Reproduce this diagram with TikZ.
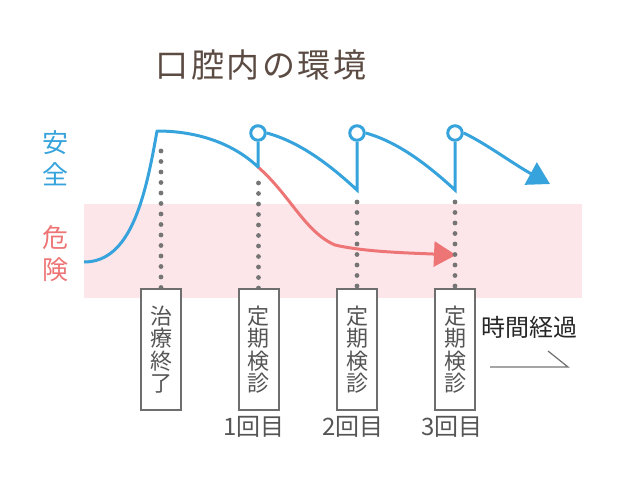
\documentclass[tikz,border=0pt]{standalone}
\usepackage{fontspec}
\setmainfont{Noto Sans CJK JP}
\usetikzlibrary{arrows.meta}
\definecolor{cblue}{HTML}{36A3DC}
\definecolor{cred}{HTML}{EE7575}
\definecolor{cpink}{HTML}{FDE6EA}
\definecolor{cbrown}{HTML}{5B4B43}
\definecolor{cgray}{HTML}{6E6E6E}
\definecolor{cdot}{HTML}{757575}
\definecolor{ctext}{HTML}{555555}
\tikzset{
  bluecurve/.style={draw=cblue, line width=3pt},
  redcurve/.style={draw=cred, line width=3pt},
  knob/.style={circle, draw=cblue, fill=white, line width=3pt, minimum size=14.5pt, inner sep=0pt},
  dotline/.style={draw=cdot, line width=4.8pt, line cap=round, dash pattern=on 0pt off 10.5pt},
  vbox/.style={draw=cgray, fill=white, line width=2pt, minimum width=40pt, minimum height=121pt, inner sep=0pt, align=center, text=ctext, font=\fontsize{22}{22.5}\selectfont},
  countlabel/.style={text=ctext, font=\fontsize{24}{24}\selectfont, inner sep=0pt},
  sidelabel/.style={font=\fontsize{26}{32}\selectfont, align=center, inner sep=0pt},
}
\begin{document}
\begin{tikzpicture}[x=1pt, y=-1pt]
\useasboundingbox (0,0) rectangle (620,490);
% pink danger band
\fill[cpink] (84,204) rectangle (582,298);
% title
\node[text=cbrown, font=\fontsize{33}{33}\selectfont, inner sep=0pt] (title) at (261,65)
  {口\kern2.5pt 腔\kern2.5pt 内\kern2.5pt の\kern2.5pt 環\kern2.5pt 境};
% side labels
\node[sidelabel, text=cblue] (safe) at (55,158) {安\\全};
\node[sidelabel, text=cred] (danger) at (55,254) {危\\険};
% knobs
\node[knob] (k1) at (258,133) {};
\node[knob] (k2) at (357,133) {};
\node[knob] (k3) at (455,133) {};
\coordinate (s0) at (84,262);
\coordinate (top) at (157,131);
\coordinate (v1) at (258,167);
\coordinate (v2) at (357,190);
\coordinate (v3) at (455,190);
\coordinate (bend) at (550,184);
\coordinate (rend) at (456,255);
% red curve
\draw[redcurve, -{Triangle[length=22pt,width=25pt]}] (v1) .. controls (290,195) and (305,232) .. (335,245)
  .. controls (365,252) and (410,253) .. (rend);
% blue curve
\draw[bluecurve, line join=round] (s0) .. controls (130,262) and (145,200) .. (top)
  .. controls (200,131) and (235,145) .. (v1) -- (k1.south);
\draw[bluecurve] (k1.east) .. controls (300,142) and (330,165) .. (v2) -- (k2.south);
\draw[bluecurve] (k2.east) .. controls (398,142) and (428,165) .. (v3) -- (k3.south);
\draw[bluecurve, -{Triangle[length=22pt,width=25pt]}] (k3.east) .. controls (485,143) and (515,165) .. (bend);
% boxes
\node[vbox, anchor=north] (b1) at (161,288) {治\\療\\終\\了};
\node[vbox, anchor=north] (b2) at (258.5,288) {定\\期\\検\\診};
\node[vbox, anchor=north] (b3) at (357,288) {定\\期\\検\\診};
\node[vbox, anchor=north] (b4) at (455,288) {定\\期\\検\\診};
% dotted lines
\coordinate (d1) at (161,151);
\coordinate (d2) at (258.5,183);
\coordinate (d3) at (357,202);
\coordinate (d4) at (455,202);
\draw[dotline] (d1) -- (b1.north);
\draw[dotline] (d2) -- (b2.north);
\draw[dotline] (d3) -- (b3.north);
\draw[dotline] (d4) -- (b4.north);
% redraw boxes on top of dots
\node[vbox, anchor=north] at (161,288) {治\\療\\終\\了};
\node[vbox, anchor=north] at (258.5,288) {定\\期\\検\\診};
\node[vbox, anchor=north] at (357,288) {定\\期\\検\\診};
\node[vbox, anchor=north] at (455,288) {定\\期\\検\\診};
% count labels
\node[countlabel] (c1) at (254,427) {1回目};
\node[countlabel] (c2) at (353,427) {2回目};
\node[countlabel] (c3) at (452,427) {3回目};
% time label
\node[text=black!85, font=\fontsize{24}{24}\selectfont, inner sep=0pt] (time) at (529,327) {時間経過};
\coordinate (ta) at (490,367);
\coordinate (tb) at (568,367);
\coordinate (tc) at (548,351);
\draw[cdot, line width=1.3pt] (ta) -- (tb) -- (tc);
\end{tikzpicture}
\end{document}
